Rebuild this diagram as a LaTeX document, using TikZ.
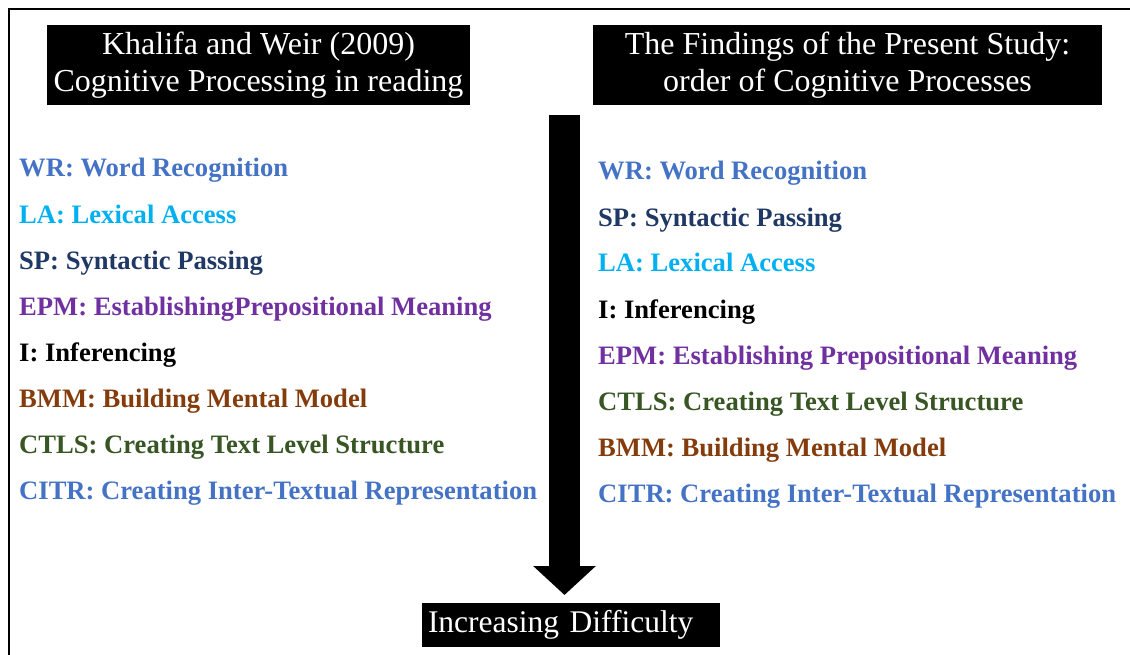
\documentclass[tikz,border=0pt]{standalone}
\usepackage{fontspec}
\setmainfont{Liberation Serif}
\usetikzlibrary{arrows.meta}
\definecolor{cwr}{HTML}{4472C4}
\definecolor{cla}{HTML}{00B0F0}
\definecolor{csp}{HTML}{1F3864}
\definecolor{cepm}{HTML}{7030A0}
\definecolor{cbmm}{HTML}{843C0C}
\definecolor{cctls}{HTML}{375623}
\tikzset{
  header/.style={fill=black, text=white, inner sep=0pt, align=center,
    minimum height=80pt, font=\fontsize{32}{37}\selectfont},
  item/.style={anchor=base west, inner sep=0pt, font=\fontsize{26.6}{30}\selectfont\bfseries},
}
\begin{document}
\begin{tikzpicture}[x=1pt,y=-1pt]
\useasboundingbox (0,0) rectangle (1130,655);
% outer frame (left and top edges)
\draw[line width=2pt] (9,655) -- (9,9) -- (1130,9);

% column headings
\node[header, minimum width=423pt] (hleft) at (258.5,65.5)
  {Khalifa and Weir (2009)\\Cognitive Processing in reading};
\node[header, minimum width=509pt] (hright) at (847.5,65.5)
  {The Findings of the Present Study:\\order of Cognitive Processes};

% left column: Khalifa and Weir order
\node[item, text=cwr]   (l1) at (19,177) {WR: Word Recognition};
\node[item, text=cla]   (l2) at (19,223.5) {LA: Lexical Access};
\node[item, text=csp]   (l3) at (19,269.5) {SP: Syntactic Passing};
\node[item, text=cepm]  (l4) at (19,315.5) {EPM: EstablishingPrepositional Meaning};
\node[item, text=black] (l5) at (19,361.5) {I: Inferencing};
\node[item, text=cbmm]  (l6) at (19,407.5) {BMM: Building Mental Model};
\node[item, text=cctls] (l7) at (19,453) {CTLS: Creating Text Level Structure};
\node[item, text=cwr]   (l8) at (19,499) {CITR: Creating Inter-Textual Representation};

% right column: order found in the present study
\node[item, text=cwr]   (r1) at (598,180) {WR: Word Recognition};
\node[item, text=csp]   (r2) at (598,226) {SP: Syntactic Passing};
\node[item, text=cla]   (r3) at (598,272) {LA: Lexical Access};
\node[item, text=black] (r4) at (598,318) {I: Inferencing};
\node[item, text=cepm]  (r5) at (598,364) {EPM: Establishing Prepositional Meaning};
\node[item, text=cctls] (r6) at (598,410) {CTLS: Creating Text Level Structure};
\node[item, text=cbmm]  (r7) at (598,456) {BMM: Building Mental Model};
\node[item, text=cwr]   (r8) at (598,502) {CITR: Creating Inter-Textual Representation};

% difficulty label and the arrow leading to it
\node[fill=black, text=white, inner xsep=6pt, inner ysep=0pt, text width=286pt,
  minimum height=44pt, align=left, font=\fontsize{31.5}{36}\selectfont] (diff) at (571,625)
  {Increasing Difficulty};
\coordinate (atop) at (564.5,115);
\coordinate (atip) at (564.5,595);
\draw[line width=31pt, -{Triangle[width=61pt,length=29pt]}] (atop) -- (atip);
\end{tikzpicture}
\end{document}
